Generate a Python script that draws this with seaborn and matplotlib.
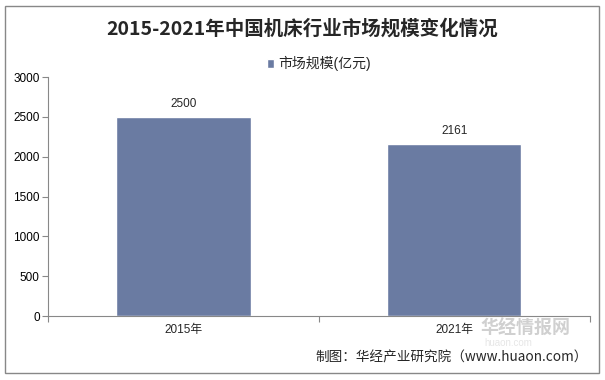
import pandas as pd
import seaborn as sns
import matplotlib.pyplot as plt
from matplotlib.patches import Rectangle

# chart data
years = ["2015年", "2021年"]
market_size = [2500, 2161]
yticks = [0, 500, 1000, 1500, 2000, 2500, 3000]

title = "2015-2021年中国机床行业市场规模变化情况"
series_name = "市场规模(亿元)"
source = "制图：华经产业研究院（www.huaon.com）"

sns.set_theme(style="white")
plt.rcParams['font.family'] = ['Liberation Sans', 'Noto Sans CJK SC', 'DejaVu Sans']

data = pd.DataFrame({"year": years, "value": market_size})

fig = plt.figure(figsize=(6.05, 3.8), dpi=100)
ax = fig.add_axes([0.0793, 0.1684, 0.8957, 0.6286])

sns.barplot(data=data, x="year", y="value", color="#6A7BA2", width=0.495,
            saturation=1, ax=ax, label=series_name)

ax.set_ylim(0, 3000)
ax.set_xlim(-0.5, 1.5)
ax.set_yticks(yticks)
ax.set_xlabel("")
ax.set_ylabel("")
ax.tick_params(axis="y", labelsize=8.5, colors="#000000", length=4, width=0.8,
               direction="out", left=True, pad=2, color="#888888")
ax.tick_params(axis="x", labelsize=8.5, length=0, pad=6)
ax.set_xticks([-0.5, 0.5, 1.5], minor=True)
ax.tick_params(axis="x", which="minor", length=4, width=0.8, color="#888888",
               direction="out", bottom=True)

for s in ["top", "right"]:
    ax.spines[s].set_visible(False)
for s in ["left", "bottom"]:
    ax.spines[s].set_color("#888888")
    ax.spines[s].set_linewidth(0.8)

for i, v in enumerate(market_size):
    ax.text(i, v + 90, str(v), ha="center", va="bottom", fontsize=8.5)

leg = ax.legend(loc="upper center", bbox_to_anchor=(0.5, 1.14), frameon=False,
                fontsize=10, handlelength=0.55, handleheight=0.55, handletextpad=0.3)

fig.text(0.5, 0.925, title, ha="center", va="center", fontsize=14,
         fontweight="bold", family=['Noto Sans CJK SC', 'DejaVu Sans'])

# watermark
fig.text(0.795, 0.135, "华经情报网", ha="left", va="center", fontsize=13,
         color="#d0d0d0", fontweight="bold", family=['Noto Sans CJK SC'])
fig.text(0.80, 0.098, "huaon.com", ha="left", va="center", fontsize=7,
         color="#e6e6e6", family=['Liberation Sans'])

fig.text(0.972, 0.06, source, ha="right", va="center", fontsize=9.8,
         family=['Noto Sans CJK SC', 'DejaVu Sans'])

fig.patches.append(Rectangle((0.008, 0.018), 0.982, 0.966, transform=fig.transFigure,
                             fill=False, edgecolor="#888888", linewidth=1))

fig.savefig("out.png", dpi=100)
